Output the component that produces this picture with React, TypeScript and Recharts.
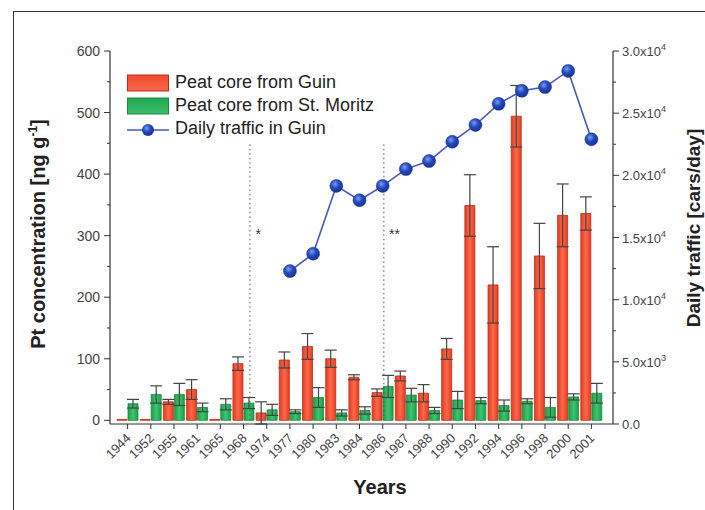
import React from "react";
import {
  ComposedChart, Bar, Line, XAxis, YAxis, ErrorBar, ReferenceLine, ReferenceDot,
} from "recharts";

const years = ["1944", "1952", "1955", "1961", "1965", "1968", "1974", "1977", "1980", "1983", "1984",
  "1986", "1987", "1988", "1990", "1992", "1994", "1996", "1998", "2000", "2001"];
const guin = [1.5, 1.5, 30, 50, 1.5, 92, 12, 98, 120, 100, 70, 45, 72, 44, 116, 349, 220, 494, 267, 333, 336];
const guinErr = [0, 0, 4, 16, 0, 11, 18, 13, 21, 14, 4, 6, 8, 14, 17, 50, 62, 50, 53, 51, 27];
const moritz = [27, 42, 42, 21, 26, 28, 17, 14, 37, 12, 16, 55, 41, 16, 33, 32, 24, 31, 21, 38, 44];
const moritzErr = [7, 14, 18, 7, 9, 9, 9, 3, 16, 5, 6, 18, 11, 5, 14, 5, 9, 4, 16, 5, 16];
const traffic = [null, null, null, null, null, null, null, 12300, 13700, 19150, 18000, 19150, 20500,
  21150, 22700, 24050, 25750, 26800, 27100, 28400, 22900];

const leftTicks = [0, 50, 100, 150, 200, 250, 300, 350, 400, 450, 500, 550, 600];
const rightTicks = [0, 2500, 5000, 7500, 10000, 12500, 15000, 17500, 20000, 22500, 25000, 27500, 30000];

const data = years.map((y, i) => ({
  year: y, guin: guin[i], guinErr: guinErr[i], moritz: moritz[i], moritzErr: moritzErr[i], traffic: traffic[i],
}));

const FONT = "'Liberation Sans', Arial, sans-serif";
const AX = "#333";

const LeftTick = (props: any) => {
  const { x, y, payload } = props;
  const v = payload.value;
  const major = v % 100 === 0;
  return (
    <g>
      <line x1={x} x2={x - (major ? 6 : 3)} y1={y} y2={y} stroke={AX} strokeWidth={1} />
      {major && (
        <text x={x - 10} y={y} dy={5} textAnchor="end" fontSize={14} fill="#444" fontFamily={FONT}>{v}</text>
      )}
    </g>
  );
};

const RightTick = (props: any) => {
  const { x, y, payload } = props;
  const v = payload.value;
  const major = v % 5000 === 0;
  let label: React.ReactNode = null;
  if (major) {
    if (v === 0) label = <tspan>0.0</tspan>;
    else {
      const e = v < 10000 ? 3 : 4;
      const m = (v / Math.pow(10, e)).toFixed(1);
      label = (
        <>
          <tspan>{m}x10</tspan>
          <tspan dy={-6} fontSize={9}>{e}</tspan>
        </>
      );
    }
  }
  return (
    <g>
      <line x1={x} x2={x + (major ? 6 : 3)} y1={y} y2={y} stroke={AX} strokeWidth={1} />
      {major && (
        <text x={x + 9} y={y} dy={5} textAnchor="start" fontSize={13} fill="#444" fontFamily={FONT}>{label}</text>
      )}
    </g>
  );
};

const YearTick = (props: any) => {
  const { x, y, payload } = props;
  const ax = x + 4;
  const ay = y + 8;
  return (
    <text x={ax} y={ay} textAnchor="end" fontSize={13} fill="#444" fontFamily={FONT}
      transform={`rotate(-45 ${ax} ${ay})`}>
      {payload.value}
    </text>
  );
};

const LeftTitle = () => {
  const cy = 234;
  const cx = 38;
  return (
    <text x={cx} y={cy} textAnchor="middle" fontSize={20} fontWeight="bold" fill="#222" fontFamily={FONT}
      transform={`rotate(-90 ${cx} ${cy})`} dy={7}>
      <tspan>Pt concentration [ng g</tspan>
      <tspan dy={-8} fontSize={12}>-1</tspan>
      <tspan dy={8}>]</tspan>
    </text>
  );
};

const RightTitle = () => {
  const cy = 228;
  const cx = 693;
  return (
    <text x={cx} y={cy} textAnchor="middle" fontSize={19} fontWeight="bold" fill="#222" fontFamily={FONT}
      transform={`rotate(-90 ${cx} ${cy})`} dy={7}>
      Daily traffic [cars/day]
    </text>
  );
};

const XTitle = () => (
  <text x={380} y={494} textAnchor="middle" fontSize={20} fontWeight="bold" fill="#222" fontFamily={FONT}>
    Years
  </text>
);

const Star = (txt: string) => (p: any) => (
  <text x={p.cx} y={p.cy} dy={6} textAnchor="middle" fontSize={14} fill="#333" fontFamily={FONT}>{txt}</text>
);

const Legend = () => (
  <div style={{ position: "absolute", left: 127, top: 71, fontFamily: FONT, fontSize: 18, color: "#222", lineHeight: "23px" }}>
    {[
      { label: "Peat core from Guin", kind: "red" },
      { label: "Peat core from St. Moritz", kind: "green" },
      { label: "Daily traffic in Guin", kind: "line" },
    ].map((it) => (
      <div key={it.label} style={{ display: "flex", alignItems: "center", height: 23 }}>
        <svg width={44} height={20} style={{ marginRight: 4 }}>
          {it.kind === "red" && <rect x={0.5} y={2} width={41} height={16} fill="url(#redLeg)" stroke="#c42a12" />}
          {it.kind === "green" && <rect x={0.5} y={2} width={41} height={16} fill="url(#greenLeg)" stroke="#1b8a45" />}
          {it.kind === "line" && (
            <g>
              <line x1={0} x2={42} y1={11} y2={11} stroke="#4557c8" strokeWidth={1.5} />
              <circle cx={21} cy={11} r={6} fill="url(#ballLeg)" />
            </g>
          )}
          <defs>
            <linearGradient id="redLeg" x1="0" y1="0" x2="0" y2="1">
              <stop offset="0" stopColor="#f04a30" />
              <stop offset="1" stopColor="#f46a4c" />
            </linearGradient>
            <linearGradient id="greenLeg" x1="0" y1="0" x2="0" y2="1">
              <stop offset="0" stopColor="#22a853" />
              <stop offset="1" stopColor="#3cbc6a" />
            </linearGradient>
            <radialGradient id="ballLeg" cx="0.4" cy="0.35" r="0.65">
              <stop offset="0" stopColor="#7f9cf0" />
              <stop offset="0.5" stopColor="#2348c0" />
              <stop offset="1" stopColor="#183393" />
            </radialGradient>
          </defs>
        </svg>
        <span>{it.label}</span>
      </div>
    ))}
  </div>
);

export default function App() {
  return (
    <div style={{ position: "fixed", left: 0, top: 0, width: 705, height: 510, background: "#fff", overflow: "hidden" }}>
      <div style={{ position: "absolute", left: 13, top: 11, width: 700, height: 510, borderLeft: "1.5px solid #333", borderTop: "1.5px solid #333" }} />
      <ComposedChart
        width={705}
        height={510}
        data={data}
        margin={{ top: 51, right: 32, left: 50, bottom: 26 }}
        barSize={10}
        barGap={1}
      >
        <defs>
          <linearGradient id="redBar" x1="0" y1="0" x2="1" y2="0">
            <stop offset="0" stopColor="#e63a22" />
            <stop offset="0.5" stopColor="#fb6a4a" />
            <stop offset="1" stopColor="#e63a22" />
          </linearGradient>
          <linearGradient id="greenBar" x1="0" y1="0" x2="1" y2="0">
            <stop offset="0" stopColor="#17a04a" />
            <stop offset="0.5" stopColor="#40c470" />
            <stop offset="1" stopColor="#17a04a" />
          </linearGradient>
          <radialGradient id="ball" cx="0.4" cy="0.35" r="0.65">
            <stop offset="0" stopColor="#7f9cf0" />
            <stop offset="0.5" stopColor="#2348c0" />
            <stop offset="1" stopColor="#183393" />
          </radialGradient>
        </defs>
        <XAxis
          xAxisId="cat"
          dataKey="year"
          interval={0}
          height={60}
          padding={{ left: 6, right: 10 }}
          axisLine={{ stroke: AX, strokeWidth: 1.2 }}
          tickLine={{ stroke: AX }}
          tickSize={5}
          tickMargin={2}
          tick={<YearTick />}
        />
        <XAxis
          xAxisId="top"
          dataKey="year"
          orientation="top"
          height={0}
          padding={{ left: 6, right: 10 }}
          axisLine={{ stroke: AX, strokeWidth: 1.2 }}
          tick={false}
          tickLine={false}
        />
        <XAxis xAxisId="num" type="number" domain={[-0.5, 20.5]} padding={{ left: 6, right: 10 }} hide />
        <YAxis
          yAxisId="left"
          domain={[0, 600]}
          ticks={leftTicks}
          interval={0}
          width={60}
          tickSize={0}
          tickMargin={0}
          tickLine={false}
          axisLine={{ stroke: AX, strokeWidth: 1.2 }}
          tick={<LeftTick />}
          label={<LeftTitle />}
        />
        <YAxis
          yAxisId="right"
          orientation="right"
          domain={[0, 30000]}
          ticks={rightTicks}
          interval={0}
          width={60}
          tickSize={0}
          tickMargin={0}
          tickLine={false}
          axisLine={{ stroke: AX, strokeWidth: 1.2 }}
          tick={<RightTick />}
          label={<RightTitle />}
        />
        <ReferenceLine
          xAxisId="num"
          yAxisId="left"
          segment={[{ x: 5.5, y: 0 }, { x: 5.5, y: 449 }]}
          stroke="#555"
          strokeDasharray="1.5 3"
        />
        <ReferenceLine
          xAxisId="num"
          yAxisId="left"
          segment={[{ x: 11, y: 0 }, { x: 11, y: 449 }]}
          stroke="#555"
          strokeDasharray="1.5 3"
        />
        <ReferenceDot xAxisId="num" yAxisId="left" x={5.84} y={305} r={0} shape={Star("*")} />
        <ReferenceDot xAxisId="num" yAxisId="left" x={11.44} y={305} r={0} shape={Star("**")} />
        <Bar xAxisId="cat" yAxisId="left" dataKey="guin" fill="url(#redBar)" stroke="#c42a12" strokeWidth={0.8} isAnimationActive={false}>
          <ErrorBar dataKey="guinErr" width={6} stroke="#444" strokeWidth={1.2} direction="y" />
        </Bar>
        <Bar xAxisId="cat" yAxisId="left" dataKey="moritz" fill="url(#greenBar)" stroke="#1b8a45" strokeWidth={0.8} isAnimationActive={false}>
          <ErrorBar dataKey="moritzErr" width={6} stroke="#444" strokeWidth={1.2} direction="y" />
        </Bar>
        <Line
          xAxisId="cat"
          yAxisId="right"
          dataKey="traffic"
          stroke="#4557c8"
          strokeWidth={1.6}
          dot={{ r: 6.5, fill: "url(#ball)", stroke: "#1a3590", strokeWidth: 0.5 }}
          isAnimationActive={false}
        />
        <XTitle />
      </ComposedChart>
      <Legend />
    </div>
  );
}
